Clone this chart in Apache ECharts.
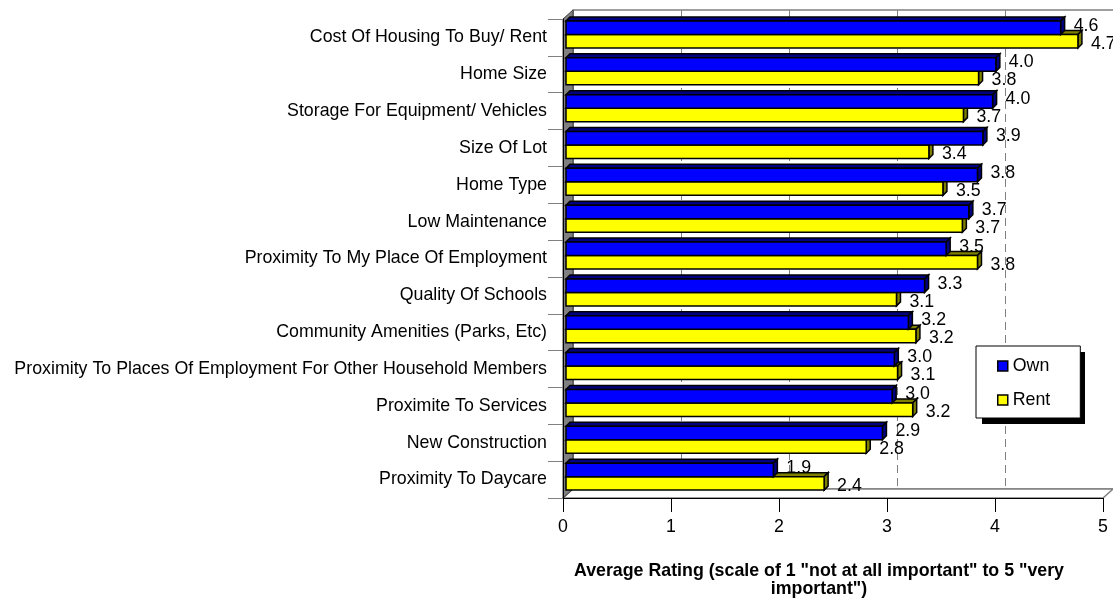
<!DOCTYPE html>
<html><head><meta charset="utf-8">
<script src="https://cdn.jsdelivr.net/npm/echarts@6/dist/echarts.min.js"></script>
<style>html,body{margin:0;padding:0;background:#fff}#c{width:1113px;height:598px}</style>
</head><body><div id="c"></div>
<script>
const categories = [
  'Cost Of Housing To Buy/ Rent',
  'Home Size',
  'Storage For Equipment/ Vehicles',
  'Size Of Lot',
  'Home Type',
  'Low Maintenance',
  'Proximity To My Place Of Employment',
  'Quality Of Schools',
  'Community Amenities (Parks, Etc)',
  'Proximity To Places Of Employment For Other Household Members',
  'Proximite To Services',
  'New Construction',
  'Proximity To Daycare'
];
const ownValues  = [4.58, 3.98, 3.95, 3.86, 3.81, 3.73, 3.52, 3.32, 3.17, 3.04, 3.02, 2.93, 1.92];
const rentValues = [4.74, 3.82, 3.68, 3.36, 3.49, 3.67, 3.81, 3.06, 3.24, 3.07, 3.21, 2.78, 2.39];
const seriesNames = ['Own', 'Rent'];
const axisTitle = 'Average Rating (scale of 1 "not at all important" to 5 "very\nimportant")';

const FONT = "'Liberation Sans', Arial, sans-serif";
const FS = 17.8;
const G = {left: 563, top: 19, width: 540, height: 479};
const D = {dx: 10, dy: 9};
const LEG = {left: 976, top: 346, width: 103, height: 72, shadow: 6};

const colors = {
  Own: {front: '#0000ff', dark: '#000080'},
  Rent: {front: '#ffff00', dark: '#808000'}
};

function makeRender(which) {
  const c = colors[seriesNames[which]];
  return function (params, api) {
    const idx = api.value(0);
    const v = api.value(1);
    const s = api.coord([0, idx]);
    const e = api.coord([v, idx]);
    const band = api.size([0, 1])[1];
    const h = band * 0.366;
    const shift = band * 0.08;
    const d = 4, off = 3;
    const x0 = s[0] + off, x1 = e[0] + off;
    const yT = which === 0 ? s[1] - shift - h : s[1] - shift;
    const yB = yT + h;
    const labelY = (yT + yB) / 2 + (which === 0 ? -2 : 2.5);
    const stroke = {stroke: '#000', lineWidth: 1.5, lineJoin: 'miter'};
    return {
      type: 'group',
      children: [
        {type: 'polygon', shape: {points: [[x0, yT], [x0 + d, yT - d], [x1 + d, yT - d], [x1, yT]]},
          style: Object.assign({fill: c.dark}, stroke)},
        {type: 'polygon', shape: {points: [[x1, yT], [x1 + d, yT - d], [x1 + d, yB - d], [x1, yB]]},
          style: Object.assign({fill: c.dark}, stroke)},
        {type: 'rect', shape: {x: x0, y: yT, width: x1 - x0, height: h},
          style: Object.assign({fill: c.front}, stroke)},
        {type: 'text', z2: 10, style: {x: x1 + 13, y: labelY, text: v.toFixed(1),
          fill: '#000', font: FS + 'px ' + FONT, verticalAlign: 'middle', align: 'left'}}
      ]
    };
  };
}

const chart = echarts.init(document.getElementById('c'), null, {renderer: 'canvas'});
chart.setOption({
  animation: false,
  backgroundColor: '#fff',
  textStyle: {fontFamily: FONT},
  title: {
    text: axisTitle, left: 814, top: 557, textAlign: 'center',
    textStyle: {fontFamily: FONT, fontSize: FS, fontWeight: 'bold', color: '#000', lineHeight: 18}
  },
  legend: {
    data: [
      {name: 'Own', itemStyle: {color: colors.Own.front, borderColor: '#000', borderWidth: 1.5}},
      {name: 'Rent', itemStyle: {color: colors.Rent.front, borderColor: '#000', borderWidth: 1.5}}
    ],
    orient: 'vertical', left: LEG.left, top: LEG.top,
    icon: 'rect', itemWidth: 10, itemHeight: 10, itemGap: 16,
    padding: [11, 30, 9, 21],
    backgroundColor: '#fff', borderColor: '#000', borderWidth: 1,
    textStyle: {fontFamily: FONT, fontSize: FS, color: '#000', lineHeight: 18},
    z: 10
  },
  grid: [
    {left: G.left, top: G.top, width: G.width, height: G.height},
    {left: G.left + D.dx, top: G.top - D.dy, width: G.width, height: G.height}
  ],
  xAxis: [
    {gridIndex: 0, type: 'value', min: 0, max: 5, interval: 1, position: 'bottom', z: 5,
      axisLine: {show: true, lineStyle: {color: '#000', width: 1}},
      axisTick: {show: true, length: 14, lineStyle: {color: '#000'}},
      axisLabel: {margin: 20, fontFamily: FONT, fontSize: FS, color: '#000'},
      splitLine: {show: false}},
    {gridIndex: 1, type: 'value', min: 0, max: 5, interval: 1, position: 'bottom', z: 0,
      axisLine: {show: true, lineStyle: {color: '#808080', width: 1.5}},
      axisTick: {show: false}, axisLabel: {show: false},
      splitLine: {show: true, lineStyle: {color: '#808080', width: 1, type: [8, 5]}}},
    {gridIndex: 1, type: 'value', min: 0, max: 5, interval: 1, position: 'top', z: 0,
      axisLine: {show: true, lineStyle: {color: '#808080', width: 1.5}},
      axisTick: {show: false}, axisLabel: {show: false}, splitLine: {show: false}}
  ],
  yAxis: [
    {gridIndex: 0, type: 'category', data: categories, inverse: true, z: 5,
      axisLine: {show: true, lineStyle: {color: '#000', width: 1}},
      axisTick: {show: true, length: 15, lineStyle: {color: '#808080'}},
      axisLabel: {margin: 16, fontFamily: FONT, fontSize: FS, color: '#000', interval: 0}},
    {gridIndex: 1, type: 'value', min: 0, max: 1, z: 0,
      axisLine: {show: true, lineStyle: {color: '#808080'}},
      axisTick: {show: false}, axisLabel: {show: false}, splitLine: {show: false}}
  ],
  graphic: [
    {type: 'polygon', z: 1, silent: true,
      shape: {points: [[G.left, G.top + G.height], [G.left + D.dx, G.top + G.height - D.dy],
        [G.left + G.width + D.dx, G.top + G.height - D.dy], [G.left + G.width, G.top + G.height]]},
      style: {fill: '#fff', stroke: '#808080', lineWidth: 1.5}},
    {type: 'polygon', z: 1, silent: true,
      shape: {points: [[G.left, G.top], [G.left + D.dx, G.top - D.dy],
        [G.left + D.dx, G.top + G.height - D.dy], [G.left, G.top + G.height]]},
      style: {fill: '#808080', stroke: '#404040', lineWidth: 1}},
    {type: 'rect', z: 8, silent: true,
      shape: {x: LEG.left + LEG.shadow, y: LEG.top + LEG.shadow, width: LEG.width, height: LEG.height},
      style: {fill: '#000'}}
  ],
  series: [
    {name: 'Rent', type: 'custom', xAxisIndex: 0, yAxisIndex: 0, z: 2,
      itemStyle: {color: colors.Rent.front},
      renderItem: makeRender(1),
      encode: {x: 1, y: 0},
      data: rentValues.map((v, i) => [i, v])},
    {name: 'Own', type: 'custom', xAxisIndex: 0, yAxisIndex: 0, z: 3,
      itemStyle: {color: colors.Own.front},
      renderItem: makeRender(0),
      encode: {x: 1, y: 0},
      data: ownValues.map((v, i) => [i, v])}
  ]
});
</script>
</body></html>
